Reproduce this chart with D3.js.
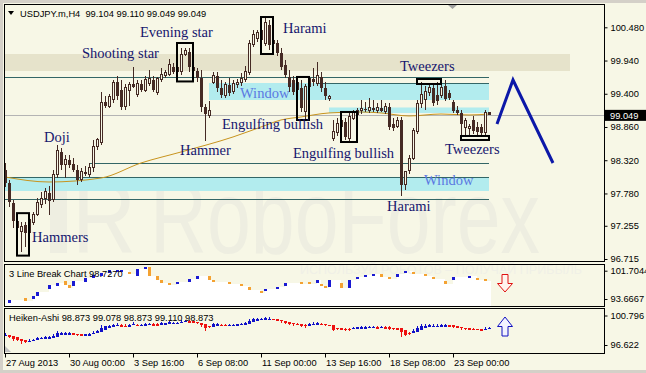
<!DOCTYPE html>
<html>
<head>
<meta charset="utf-8">
<script src="https://cdn.jsdelivr.net/npm/d3@7"></script>
<style>
  html, body { margin: 0; padding: 0; background: #d4d0c8; }
  svg { display: block; }
</style>
</head>
<body>
<div id="chart"></div>
<script>
// USDJPY.m H4 candles, 27 Aug 08:00 .. 24 Sep 12:00
const open = [
  98.161, 97.950, 97.625, 97.333, 97.154, 97.268, 97.138, 97.316, 97.446, 97.593,
  97.690, 97.788, 97.674, 98.080, 98.454, 98.243, 98.324, 98.259, 98.161, 97.999,
  98.129, 98.080, 98.194, 98.535, 98.616, 99.266, 99.201, 99.299, 99.591, 99.461,
  99.185, 99.461, 99.559, 99.380, 99.559, 99.461, 99.559, 99.624, 99.413, 99.624,
  99.689, 99.721, 99.835, 99.754, 99.754, 100.046, 100.079, 99.835, 99.770, 99.656,
  99.185, 99.039, 99.591, 99.689, 99.494, 99.364, 99.543, 99.429, 99.543, 99.575,
  99.624, 99.738, 100.193, 100.306, 100.274, 100.209, 100.518, 100.274, 100.225, 100.063,
  99.868, 99.673, 99.624, 99.591, 99.494, 99.104, 99.526, 99.640, 99.559, 99.673,
  99.494, 99.315, 98.681, 98.763, 98.876, 98.941, 98.665, 99.006, 99.071, 99.136,
  99.153, 99.120, 99.169, 99.120, 99.169, 99.104, 99.185, 98.909, 98.876, 98.974,
  97.918, 98.161, 98.356, 98.779, 99.234, 99.299, 99.413, 99.494, 99.380, 99.364,
  99.526, 99.413, 99.266, 99.136, 99.088, 98.844, 98.828, 98.974, 98.860, 98.860,
  98.763, 99.104
];
const high = [
  98.275, 97.999, 97.674, 97.414, 97.316, 97.316, 97.430, 97.479, 97.706, 97.804,
  97.869, 97.901, 98.161, 98.568, 98.519, 98.405, 98.405, 98.356, 98.243, 98.194,
  98.226, 98.275, 98.649, 98.681, 99.429, 99.364, 99.396, 99.624, 99.689, 99.624,
  99.559, 99.591, 99.835, 99.624, 99.624, 99.689, 99.786, 99.689, 99.673, 99.819,
  99.786, 99.965, 99.900, 99.884, 100.144, 100.144, 100.144, 99.884, 99.819, 99.786,
  99.234, 99.283, 99.754, 99.754, 99.624, 99.591, 99.656, 99.624, 99.640, 99.738,
  99.851, 100.274, 100.436, 100.436, 100.469, 100.631, 100.599, 100.323, 100.274, 100.144,
  99.949, 99.786, 99.689, 99.689, 99.624, 99.559, 99.689, 99.819, 99.916, 99.754,
  99.591, 99.380, 98.974, 99.006, 99.039, 99.006, 99.088, 99.136, 99.169, 99.299,
  99.266, 99.331, 99.299, 99.250, 99.299, 99.250, 99.250, 99.006, 99.023, 99.023,
  98.129, 98.405, 98.844, 99.299, 99.591, 99.526, 99.543, 99.543, 99.591, 99.591,
  99.624, 99.461, 99.299, 99.201, 99.136, 99.006, 98.909, 99.039, 98.941, 98.909,
  99.136, 99.110
];
const low = [
  97.885, 97.560, 97.219, 97.154, 96.829, 96.910, 97.089, 97.268, 97.414, 97.544,
  97.609, 97.430, 97.641, 98.031, 98.161, 98.031, 98.194, 98.129, 97.918, 97.966,
  98.064, 98.048, 98.129, 98.486, 98.568, 99.169, 99.169, 99.250, 99.299, 99.136,
  99.136, 99.201, 99.494, 99.348, 99.429, 99.429, 99.526, 99.429, 99.380, 99.591,
  99.656, 99.689, 99.721, 99.705, 99.705, 100.014, 99.754, 99.705, 99.591, 99.104,
  98.633, 99.006, 99.559, 99.429, 99.331, 99.331, 99.364, 99.396, 99.494, 99.526,
  99.591, 99.705, 100.160, 100.241, 100.209, 100.176, 100.111, 100.176, 100.014, 99.786,
  99.656, 99.429, 99.380, 99.429, 99.104, 98.974, 99.494, 99.526, 99.526, 99.429,
  99.299, 99.283, 98.633, 98.714, 98.844, 98.649, 98.633, 98.974, 99.039, 99.071,
  99.104, 99.088, 99.104, 99.088, 99.104, 99.071, 98.811, 98.795, 98.844, 97.739,
  97.836, 98.096, 98.324, 98.746, 99.169, 99.136, 99.364, 99.201, 99.218, 99.331,
  99.283, 99.299, 99.088, 99.055, 98.730, 98.698, 98.714, 98.746, 98.698, 98.698,
  98.714, 99.049
];
const close = [
  97.950, 97.641, 97.333, 97.219, 97.251, 97.138, 97.349, 97.446, 97.625, 97.706,
  97.804, 97.658, 98.096, 98.486, 98.243, 98.324, 98.243, 98.161, 97.999, 98.129,
  98.096, 98.194, 98.535, 98.649, 99.266, 99.201, 99.348, 99.591, 99.364, 99.185,
  99.494, 99.543, 99.510, 99.559, 99.461, 99.624, 99.640, 99.461, 99.640, 99.721,
  99.738, 99.868, 99.754, 99.819, 100.030, 100.095, 99.835, 99.770, 99.656, 99.185,
  99.071, 99.120, 99.689, 99.494, 99.380, 99.543, 99.413, 99.559, 99.591, 99.640,
  99.754, 100.209, 100.371, 100.388, 100.436, 100.550, 100.193, 100.209, 100.063, 99.835,
  99.705, 99.510, 99.429, 99.461, 99.169, 99.526, 99.640, 99.591, 99.689, 99.494,
  99.364, 99.348, 98.779, 98.909, 98.958, 98.698, 99.023, 99.088, 99.120, 99.153,
  99.136, 99.169, 99.136, 99.169, 99.120, 99.185, 98.860, 98.844, 98.958, 97.918,
  98.129, 98.356, 98.795, 99.234, 99.380, 99.429, 99.494, 99.250, 99.283, 99.494,
  99.315, 99.331, 99.120, 99.088, 98.909, 98.958, 98.860, 98.795, 98.779, 98.763,
  99.088, 99.049
];

// moving average (orange), read at a few bars
const maBars = [0, 11, 24, 34, 44, 57, 64, 69, 74, 81, 89, 94, 101, 109, 116, 121];
const maValues = [98.048, 97.966, 98.031, 98.275, 98.454, 98.698, 98.860, 98.974, 99.023, 99.088, 99.104, 99.088, 99.039, 99.071, 99.055, 99.071];

// axis ticks
const priceTicks = [100.480, 99.940, 99.400, 98.860, 98.320, 97.780, 97.255, 96.715];
const timeLabelBars = [0, 16, 32, 48, 64, 80, 96, 112];
const timeLabels = ["27 Aug 2013", "30 Aug 00:00", "3 Sep 16:00", "6 Sep 08:00", "11 Sep 00:00", "13 Sep 16:00", "18 Sep 08:00", "23 Sep 00:00"];
const currentPrice = 99.049;

// 3 Line Break blocks: bar, from, to
const lbBars = [1, 5, 7, 8, 11, 13, 15, 16, 17, 20, 22, 24, 26, 28, 29, 31, 33, 35, 36, 38, 39, 41, 43, 46, 48, 51, 52, 56, 59, 61, 64, 65, 68, 70, 74, 76, 78, 79, 80, 81, 84, 86, 88, 90, 92, 94, 96, 98, 100, 102, 105, 107, 110, 112, 116, 118, 120];
const lbFrom = [92.53, 93.95, 93.67, 94.52, 96.51, 97.36, 98.78, 97.64, 97.36, 98.50, 99.63, 100.20, 101.05, 101.34, 101.34, 101.34, 100.20, 102.19, 102.76, 100.20, 99.06, 98.21, 97.93, 98.50, 99.35, 100.20, 99.06, 98.50, 97.93, 97.08, 95.94, 95.94, 96.51, 97.36, 98.50, 98.50, 98.21, 97.93, 97.36, 97.08, 98.21, 96.79, 99.35, 99.92, 100.20, 100.77, 99.92, 99.92, 101.05, 101.34, 100.77, 99.92, 98.78, 99.06, 99.63, 99.63, 99.35];
const lbTo = [93.38, 93.10, 94.52, 95.66, 97.64, 98.21, 97.64, 96.79, 98.78, 99.63, 100.48, 101.05, 101.90, 101.90, 101.90, 100.77, 102.19, 102.76, 100.20, 99.06, 98.21, 97.64, 98.50, 99.35, 100.20, 99.06, 98.50, 97.93, 97.36, 96.22, 95.37, 96.51, 97.08, 98.21, 97.93, 97.93, 99.06, 97.36, 96.79, 99.06, 96.79, 99.06, 99.92, 100.48, 100.77, 99.92, 99.35, 100.77, 101.62, 100.77, 100.20, 99.35, 97.93, 99.92, 100.20, 99.06, 98.78];

// levels and zones drawn on the main panel: [firstBar, lastBar, price]
const levelStart = [-0.25, 78, 21, -0.25, -0.25];
const levelEnd = [121, 121, 121, 121, 121];
const levelPrice = [99.673, 99.575, 98.275, 98.050, 97.690];
const zoneStart = [51, 81, -0.25];
const zoneEnd = [121, 121, 121];
const zoneTop = [99.575, 99.177, 98.048];
const zoneBottom = [99.299, 99.088, 97.820];

// pattern boxes
const boxFirst = [4, 44, 65, 74, 85, 104, 115];
const boxLast = [5, 46, 66, 75, 87, 108, 120];
const boxTop = [97.46, 100.225, 100.647, 99.673, 99.104, 99.640, 98.714];
const boxBottom = [96.77, 99.600, 100.046, 98.974, 98.616, 99.559, 98.649];

// pattern captions: text, bar position, baseline price
const noteText = ["Evening star", "Shooting star", "Harami", "Doji", "Hammer", "Engulfing bullish", "Engulfing bullish", "Hammers", "Tweezers", "Tweezers", "Harami"];
const noteBar = [33.75, 19.25, 69.5, 9.75, 43.75, 54.25, 72, 6.75, 98.75, 110, 95.5];
const notePrice = [100.323, 99.981, 100.388, 98.616, 98.405, 98.828, 98.356, 96.991, 99.770, 98.421, 97.495];
const windowBar = [58.75, 104.75];
const windowPrice = [99.331, 97.918];

// forecast zigzag
const fcBars = [123, 127, 137];
const fcPrices = [98.909, 99.624, 98.275];

const W = 646, H = 373;
const bg = "#f7f7e6";
const candleColor = "#452a24";
const navy = "#16166e";

const svg = d3.select("#chart").append("svg").attr("width", W).attr("height", H);
svg.append("rect").attr("width", W).attr("height", H).attr("fill", "#d4d0c8");
svg.append("rect").attr("x", 3).attr("y", 3).attr("width", W - 3).attr("height", 367).attr("fill", bg);

const x = d3.scaleLinear().domain([0, 121]).range([5, 489]);
const y = d3.scaleLinear().domain([96.715, 100.480]).range([259, 27.3]);
const yLB = d3.scaleLinear().domain([93.6667, 101.7044]).range([299, 270.7]);
const yHA = d3.scaleLinear().domain([96.622, 100.796]).range([345, 315.5]);

svg.append("clipPath").attr("id", "mainClip").append("rect")
  .attr("x", 5).attr("y", 5).attr("width", 599).attr("height", 256);

const main = svg.append("g").attr("clip-path", "url(#mainClip)");

// watermark
const markColor = "#eeeee1";
main.append("rect").attr("x", 50).attr("y", 178).attr("width", 17).attr("height", 75).attr("fill", markColor);
main.append("text").attr("x", 72).attr("y", 253).attr("font-family", "Liberation Sans")
  .attr("font-size", 104).attr("textLength", 64).attr("lengthAdjust", "spacingAndGlyphs")
  .attr("fill", markColor).text("R");
main.append("text").attr("x", 150).attr("y", 253).attr("font-family", "Liberation Sans")
  .attr("font-size", 104).attr("textLength", 390).attr("lengthAdjust", "spacingAndGlyphs")
  .attr("fill", markColor).text("RoboForex");

// beige resistance band
main.append("rect")
  .attr("x", 4).attr("width", x(141.25) - 4)
  .attr("y", y(100.046)).attr("height", y(99.770) - y(100.046))
  .attr("fill", "#e6e3cb");

// cyan zones
main.selectAll("rect.zone").data(zoneTop).join("rect").attr("class", "zone")
  .attr("x", (d, i) => x(zoneStart[i]))
  .attr("width", (d, i) => x(zoneEnd[i]) - x(zoneStart[i]))
  .attr("y", d => y(d))
  .attr("height", (d, i) => y(zoneBottom[i]) - y(d))
  .attr("fill", "#b2ecee");

// level lines
main.selectAll("line.level").data(levelPrice).join("line").attr("class", "level")
  .attr("x1", (d, i) => x(levelStart[i])).attr("x2", (d, i) => x(levelEnd[i]))
  .attr("y1", d => Math.round(y(d)) + 0.5).attr("y2", d => Math.round(y(d)) + 0.5)
  .attr("stroke", "#336666").attr("stroke-width", 1);

// current price line
main.append("line").attr("x1", 4).attr("x2", 604)
  .attr("y1", Math.round(y(currentPrice)) + 0.5).attr("y2", Math.round(y(currentPrice)) + 0.5)
  .attr("stroke", "#b4b4b4");

// moving average
main.append("path")
  .datum(maBars)
  .attr("fill", "none").attr("stroke", "#c8941e").attr("stroke-width", 1)
  .attr("d", d3.line().curve(d3.curveMonotoneX).x(d => x(d)).y((d, i) => y(maValues[i])));

// candles
const bars = d3.range(close.length);
const cg = main.append("g").attr("shape-rendering", "crispEdges");
cg.selectAll("line").data(bars).join("line")
  .attr("x1", i => x(i) + 0.5).attr("x2", i => x(i) + 0.5)
  .attr("y1", i => y(high[i])).attr("y2", i => y(low[i]))
  .attr("stroke", candleColor);
cg.selectAll("rect").data(bars).join("rect")
  .attr("x", i => close[i] >= open[i] ? x(i) - 0.5 : x(i) - 1)
  .attr("width", i => close[i] >= open[i] ? 2 : 3)
  .attr("y", i => y(Math.max(open[i], close[i])))
  .attr("height", i => Math.max(1, Math.abs(y(open[i]) - y(close[i]))))
  .attr("fill", i => close[i] >= open[i] ? bg : candleColor)
  .attr("stroke", i => close[i] >= open[i] ? candleColor : "none");

// pattern boxes
main.selectAll("rect.box").data(boxTop).join("rect").attr("class", "box")
  .attr("x", (d, i) => x(boxFirst[i]) - 4)
  .attr("width", (d, i) => x(boxLast[i]) - x(boxFirst[i]) + 8)
  .attr("y", d => y(d))
  .attr("height", (d, i) => y(boxBottom[i]) - y(d))
  .attr("fill", "none").attr("stroke", "#000").attr("stroke-width", 2);

// captions
main.selectAll("text.note").data(noteText).join("text").attr("class", "note")
  .attr("x", (d, i) => x(noteBar[i])).attr("y", (d, i) => y(notePrice[i]))
  .attr("font-family", "Liberation Serif").attr("font-size", 14.5)
  .attr("fill", navy).text(d => d);
main.selectAll("text.win").data(windowBar).join("text").attr("class", "win")
  .attr("x", d => x(d)).attr("y", (d, i) => y(windowPrice[i]))
  .attr("font-family", "Liberation Serif").attr("font-size", 14.5)
  .attr("fill", "#5a78e2").text("Window");

// forecast
main.append("path").datum(fcBars)
  .attr("fill", "none").attr("stroke", "#0c18a8").attr("stroke-width", 3)
  .attr("stroke-linejoin", "miter")
  .attr("d", d3.line().x(d => x(d)).y((d, i) => y(fcPrices[i])));

// shift marker
svg.append("path").attr("d", "M448,5 L457,5 L452.5,9 Z").attr("fill", "#a0a0a0");

// title
svg.append("path").attr("d", "M8,11 L14,11 L11,15 Z").attr("fill", "#000");
svg.append("text").attr("x", 20).attr("y", 17)
  .attr("font-family", "Liberation Sans").attr("font-size", 9.3).attr("fill", "#000")
  .text("USDJPY.m,H4\u00a0\u00a099.104 99.110 99.049 99.049");

// ---- 3 Line Break panel
const lbg = svg.append("g");
const lbLevels = [{ b: -0.25, v: lbTo[0] }].concat(lbBars.map((b, k) => ({ b, v: lbTo[k] })), [{ b: 121.5, v: lbTo[lbTo.length - 1] }]);
lbg.append("path").datum(lbLevels)
  .attr("fill", "#ffffff")
  .attr("d", d3.area().curve(d3.curveStepAfter).x(d => x(d.b)).y0(306).y1(d => yLB(d.v)));
lbg.append("text").attr("x", 300).attr("y", 274).attr("font-family", "Liberation Sans")
  .attr("font-size", 12).attr("textLength", 282).attr("lengthAdjust", "spacingAndGlyphs")
  .attr("fill", "#f0f0e6").text("ИСПОЛЬЗУЙ РОБОТОВ – ПОЛУЧАЙ ПРИБЫЛЬ");
lbg.append("g").attr("shape-rendering", "crispEdges")
  .selectAll("rect").data(lbBars).join("rect")
  .attr("x", d => x(d) - 1)
  .attr("width", 3)
  .attr("y", (d, k) => Math.min(yLB(lbFrom[k]), yLB(lbTo[k])))
  .attr("height", (d, k) => Math.max(2, Math.abs(yLB(lbFrom[k]) - yLB(lbTo[k]))))
  .attr("fill", (d, k) => lbTo[k] > lbFrom[k] ? "#1a1ad2" : "#f4a232");
lbg.append("text").attr("x", 9).attr("y", 277).attr("font-family", "Liberation Sans")
  .attr("font-size", 9.3).attr("fill", "#000").text("3 Line Break Chart 98.7270");

// red arrow
svg.append("path")
  .attr("d", "M502,274.5 L508,274.5 L508,283.5 L512.5,283.5 L505,292 L497.5,283.5 L502,283.5 Z")
  .attr("fill", "#fff4ee").attr("stroke", "#e01010").attr("stroke-width", 1);

// ---- Heiken-Ashi panel
const ha = [];
bars.forEach(i => {
  const c = (open[i] + high[i] + low[i] + close[i]) / 4;
  const o = i === 0 ? (open[i] + close[i]) / 2 : (ha[i - 1].o + ha[i - 1].c) / 2;
  ha.push({ i, o, c, h: Math.max(high[i], o, c), l: Math.min(low[i], o, c) });
});
const hg = svg.append("g").attr("shape-rendering", "crispEdges");
hg.selectAll("line").data(ha).join("line")
  .attr("x1", d => x(d.i) + 0.5).attr("x2", d => x(d.i) + 0.5)
  .attr("y1", d => yHA(d.h)).attr("y2", d => yHA(d.l))
  .attr("stroke", d => d.c >= d.o ? "#1010c8" : "#ee1010");
hg.selectAll("rect").data(ha).join("rect")
  .attr("x", d => x(d.i) - 1).attr("width", 3)
  .attr("y", d => yHA(Math.max(d.o, d.c)))
  .attr("height", d => Math.max(1.5, Math.abs(yHA(d.o) - yHA(d.c))))
  .attr("fill", d => d.c >= d.o ? "#1010c8" : "#ee1010");
svg.append("text").attr("x", 9).attr("y", 321).attr("font-family", "Liberation Sans")
  .attr("font-size", 9.3).attr("fill", "#000").text("Heiken-Ashi 98.873 99.078 98.873 99.110 98.873");
svg.append("path").attr("d", "M5,352 L5,346 L11,352 Z").attr("fill", "#c0c0c0");

// blue arrow
svg.append("path")
  .attr("d", "M505,317 L512.5,326.5 L508,326.5 L508,336 L502,336 L502,326.5 L497.5,326.5 Z")
  .attr("fill", "#f2f2ff").attr("stroke", "#1010c0").attr("stroke-width", 1);

// ---- panel frames
const frames = [[4.5, 261.5], [264.5, 306.5], [308.5, 353.5]];
svg.selectAll("rect.frame").data(frames).join("rect").attr("class", "frame")
  .attr("x", 4.5).attr("width", 600).attr("y", d => d[0]).attr("height", d => d[1] - d[0])
  .attr("fill", "none").attr("stroke", "#000");

// ---- axes
function styleAxis(g) {
  g.select(".domain").remove();
  g.selectAll("text").attr("font-family", "Liberation Sans").attr("font-size", 9.3).attr("fill", "#000");
  g.selectAll("line").attr("stroke", "#000");
}
svg.append("g").attr("transform", "translate(604.5,0)")
  .call(d3.axisRight(y).tickValues(priceTicks).tickFormat(d3.format(".3f")).tickSize(3).tickPadding(3))
  .call(styleAxis);
svg.append("g").attr("transform", "translate(604.5,0)")
  .call(d3.axisRight(yLB).tickValues([101.7044, 93.6667]).tickFormat(d3.format(".4f")).tickSize(3).tickPadding(3))
  .call(styleAxis);
svg.append("g").attr("transform", "translate(604.5,0)")
  .call(d3.axisRight(yHA).tickValues([100.796, 96.622]).tickFormat(d3.format(".3f")).tickSize(3).tickPadding(3))
  .call(styleAxis);

// current price tag
svg.append("rect").attr("x", 605).attr("y", y(currentPrice) - 5.5).attr("width", 41).attr("height", 11).attr("fill", "#000");
svg.append("text").attr("x", 610).attr("y", y(currentPrice) + 3.3)
  .attr("font-family", "Liberation Sans").attr("font-size", 9.3).attr("fill", "#fff")
  .text(d3.format(".3f")(currentPrice));

// time axis
svg.append("g").attr("transform", "translate(0,353.5)")
  .call(d3.axisBottom(x).tickValues(timeLabelBars).tickFormat((d, i) => timeLabels[i]).tickSize(4).tickPadding(2))
  .call(styleAxis)
  .call(g => g.selectAll("text").attr("text-anchor", "start").attr("dx", 0.5));
</script>
</body>
</html>
